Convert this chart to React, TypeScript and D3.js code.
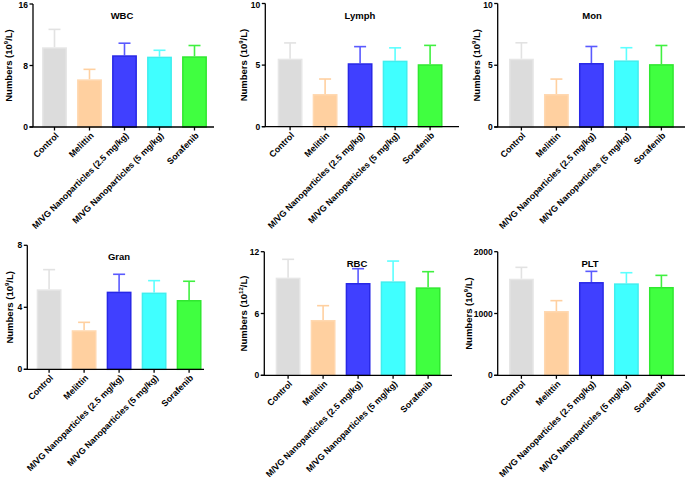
import React from "react";
import * as d3 from "d3";

const categories = [
  "Control",
  "Melittin",
  "M/VG Nanoparticles (2.5 mg/kg)",
  "M/VG Nanoparticles (5 mg/kg)",
  "Sorafenib",
];

const wbcMean = [10.37, 6.2, 9.33, 9.15, 9.2];
const wbcSd = [2.33, 1.3, 1.57, 0.83, 1.4];
const lymphMean = [5.52, 2.65, 5.15, 5.36, 5.07];
const lymphSd = [1.28, 1.22, 1.35, 1.04, 1.53];
const monMean = [5.53, 2.67, 5.18, 5.39, 5.09];
const monSd = [1.29, 1.21, 1.34, 1.03, 1.51];
const granMean = [5.16, 2.52, 5.01, 4.95, 4.47];
const granSd = [1.27, 0.51, 1.12, 0.77, 1.21];
const rbcMean = [9.48, 5.37, 8.96, 9.12, 8.54];
const rbcSd = [1.78, 1.39, 1.39, 1.97, 1.52];
const pltMean = [1563, 1040, 1509, 1488, 1429];
const pltSd = [184, 168, 173, 172, 188];

const wbcTicks = [0, 8, 16];
const lymphTicks = [0, 5, 10];
const monTicks = [0, 5, 10];
const granTicks = [0, 4, 8];
const rbcTicks = [0, 6, 12];
const pltTicks = [0, 1000, 2000];

const fills = ["#dcdcdc", "#ffd0a0", "#4040ff", "#40ffff", "#40ff40"];
const strokes = ["#e6e6e6", "#ffd8b0", "#2828e6", "#40eeee", "#30e830"];
const errColors = ["#e2e2e2", "#ffd0a0", "#5a5aff", "#5cffff", "#40f040"];

type Panel = {
  title: string;
  unit: string;
  mean: number[];
  sd: number[];
  ticks: number[];
  ax: number;
  ty: number;
  by: number;
  ex: number;
  off: number;
  tx: number;
  tyTitle: number;
  lx: number;
};

const panels: Panel[] = [
  { title: "WBC", unit: "9", mean: wbcMean, sd: wbcSd, ticks: wbcTicks, ax: 33, ty: 4, by: 127, ex: 214, off: 4, tx: 122, tyTitle: 19, lx: 11.5 },
  { title: "Lymph", unit: "9", mean: lymphMean, sd: lymphSd, ticks: lymphTicks, ax: 265.3, ty: 3.5, by: 126.7, ex: 459, off: 7.3, tx: 360, tyTitle: 18.5, lx: 246.5 },
  { title: "Mon", unit: "9", mean: monMean, sd: monSd, ticks: monTicks, ax: 497.7, ty: 3.5, by: 127, ex: 685, off: 6.2, tx: 592, tyTitle: 18.5, lx: 479.5 },
  { title: "Gran", unit: "9", mean: granMean, sd: granSd, ticks: granTicks, ax: 27.3, ty: 245.3, by: 369.3, ex: 204, off: 4.3, tx: 119, tyTitle: 259.5, lx: 12.5 },
  { title: "RBC", unit: "12", mean: rbcMean, sd: rbcSd, ticks: rbcTicks, ax: 264.3, ty: 251.7, by: 375.3, ex: 452, off: 6.3, tx: 357, tyTitle: 266.5, lx: 246.5 },
  { title: "PLT", unit: "9", mean: pltMean, sd: pltSd, ticks: pltTicks, ax: 497.7, ty: 251.7, by: 375.3, ex: 685, off: 6.2, tx: 590, tyTitle: 266.5, lx: 471.5 },
];

const FONT = "'Liberation Sans', Arial, Helvetica, sans-serif";

function PanelChart({ p }: { p: Panel }) {
  const y = d3
    .scaleLinear()
    .domain([0, p.ticks[p.ticks.length - 1]])
    .range([p.by, p.ty]);
  const x = d3
    .scaleBand<string>()
    .domain(categories)
    .range([p.ax + p.off, p.ax + p.off + 175])
    .paddingInner(0.29)
    .paddingOuter(0.145);
  const bw = x.bandwidth();
  const midY = (p.ty + p.by) / 2;
  return (
    <g>
      {categories.map((c, i) => {
        const x0 = x(c)!;
        const cx = x0 + bw / 2;
        const top = y(p.mean[i]);
        const errTop = y(p.mean[i] + p.sd[i]);
        return (
          <g key={c}>
            <line x1={cx} x2={cx} y1={top} y2={errTop} stroke={errColors[i]} strokeWidth={1.6} />
            <line x1={cx - 6} x2={cx + 6} y1={errTop} y2={errTop} stroke={errColors[i]} strokeWidth={1.6} />
            <rect
              x={x0 + 0.75}
              y={top + 0.75}
              width={bw - 1.5}
              height={p.by - top - 0.75}
              fill={fills[i]}
              stroke={strokes[i]}
              strokeWidth={1.5}
            />
          </g>
        );
      })}
      {/* y axis */}
      <line x1={p.ax} x2={p.ax} y1={p.ty} y2={p.by} stroke="#000" strokeWidth={1.3} />
      {p.ticks.map((t) => (
        <g key={t}>
          <line x1={p.ax - 3.5} x2={p.ax} y1={y(t)} y2={y(t)} stroke="#000" strokeWidth={1.3} />
          <text
            x={p.ax - 5}
            y={Math.max(y(t) + 3, 8)}
            textAnchor="end"
            fontSize={8.5}
            fontWeight="bold"
            fontFamily={FONT}
          >
            {t}
          </text>
        </g>
      ))}
      {/* x axis */}
      <line x1={p.ax - 3.5} x2={p.ex} y1={p.by} y2={p.by} stroke="#000" strokeWidth={1.3} />
      {categories.map((c) => {
        const cx = x(c)! + bw / 2;
        return (
          <g key={"t" + c}>
            <line x1={cx} x2={cx} y1={p.by} y2={p.by + 3.5} stroke="#000" strokeWidth={1.3} />
            <text
              transform={`translate(${cx + 2.5},${p.by + 7}) rotate(-45)`}
              textAnchor="end"
              dy="0.35em"
              fontSize={8.8}
              fontWeight="bold"
              fontFamily={FONT}
            >
              {c}
            </text>
          </g>
        );
      })}
      <text
        x={p.tx}
        y={p.tyTitle}
        textAnchor="middle"
        fontSize={9.5}
        fontWeight="bold"
        fontFamily={FONT}
      >
        {p.title}
      </text>
      <text
        transform={`translate(${p.lx},${midY}) rotate(-90)`}
        textAnchor="middle"
        fontSize={9.5}
        fontWeight="bold"
        fontFamily={FONT}
      >
        Numbers (10
        <tspan fontSize={6} dy={-4}>
          {p.unit}
        </tspan>
        <tspan dy={4}>/L)</tspan>
      </text>
    </g>
  );
}

export default function App() {
  return (
    <svg
      width={685}
      height={487}
      style={{ position: "absolute", left: 0, top: 0, background: "#fff" }}
    >
      <rect width={685} height={487} fill="#fff" />
      {panels.map((p) => (
        <PanelChart key={p.title} p={p} />
      ))}
    </svg>
  );
}
